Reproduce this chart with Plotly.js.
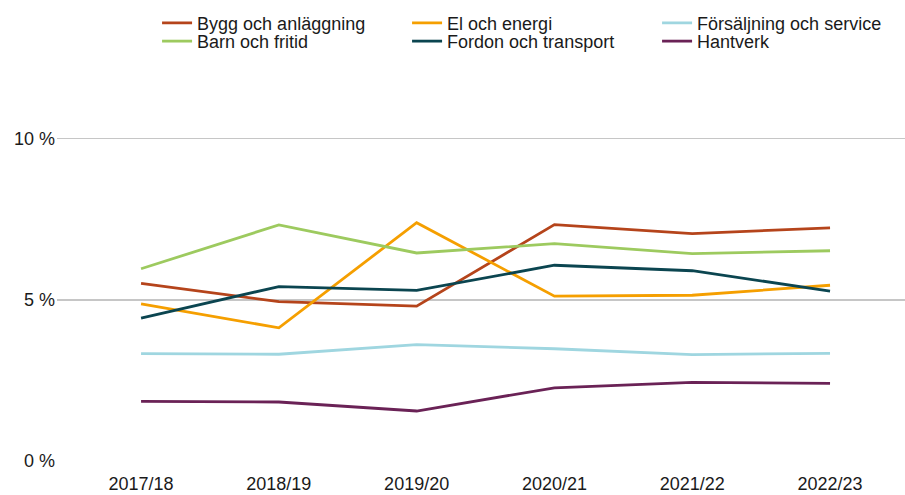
<!DOCTYPE html>
<html>
<head>
<meta charset="utf-8">
<script src="https://cdn.plot.ly/plotly-3.0.1.min.js"></script>
<style>html,body{margin:0;padding:0;background:#fff;}#chart{width:905px;height:495px;}</style>
</head>
<body>
<div id="chart"></div>
<script>
const years = ["2017/18", "2018/19", "2019/20", "2020/21", "2021/22", "2022/23"];
const bygg = [5.51, 4.94, 4.80, 7.33, 7.05, 7.23];
const el = [4.87, 4.13, 7.39, 5.11, 5.14, 5.45];
const forsaljning = [3.33, 3.31, 3.61, 3.48, 3.30, 3.34];
const barn = [5.96, 7.32, 6.45, 6.74, 6.43, 6.52];
const fordon = [4.43, 5.41, 5.29, 6.07, 5.90, 5.27];
const hantverk = [1.85, 1.83, 1.55, 2.27, 2.44, 2.41];
const yTickVals = [0, 5, 10];
const yTickText = ["0 %", "5 %", "10 %"];

const series = [
  {name: "Bygg och anläggning", y: bygg, color: "#b5441b", legend: "legend"},
  {name: "El och energi", y: el, color: "#f59f00", legend: "legend"},
  {name: "Försäljning och service", y: forsaljning, color: "#9fd6e0", legend: "legend"},
  {name: "Barn och fritid", y: barn, color: "#9dca5f", legend: "legend2"},
  {name: "Fordon och transport", y: fordon, color: "#0b4550", legend: "legend2"},
  {name: "Hantverk", y: hantverk, color: "#6a2256", legend: "legend2"}
];

const data = series.map(s => ({
  type: "scatter",
  mode: "lines",
  x: years,
  y: s.y,
  name: s.name,
  legend: s.legend,
  line: {color: s.color, width: 2.8},
  hoverinfo: "skip"
}));

const font = {family: "Liberation Sans, Arial, sans-serif", size: 18, color: "#1a1a1a"};
const legendBase = {
  orientation: "h",
  xanchor: "left",
  yanchor: "top",
  x: 0.118,
  entrywidth: 205,
  entrywidthmode: "pixels",
  itemwidth: 30,
  bgcolor: "rgba(0,0,0,0)",
  borderwidth: 0,
  font: font,
  tracegroupgap: 0
};

const layout = {
  width: 905,
  height: 495,
  margin: {l: 57, r: 0, t: 74, b: 34, autoexpand: false},
  paper_bgcolor: "#ffffff",
  plot_bgcolor: "#ffffff",
  font: font,
  showlegend: true,
  legend: Object.assign({}, legendBase, {y: 1.179}),
  legend2: Object.assign({}, legendBase, {y: 1.132}),
  xaxis: {
    type: "category",
    range: [-0.61, 5.544],
    showgrid: false,
    showline: false,
    zeroline: false,
    ticks: "",
    ticklabelstandoff: 10,
    tickfont: font,
    fixedrange: true
  },
  yaxis: {
    range: [0, 12],
    tickvals: yTickVals,
    ticktext: yTickText,
    showgrid: true,
    gridcolor: "#c6c6c6",
    gridwidth: 1.5,
    zeroline: false,
    showline: false,
    ticks: "",
    ticklabelstandoff: 1,
    tickfont: font,
    fixedrange: true
  }
};

Plotly.newPlot("chart", data, layout, {staticPlot: true, displayModeBar: false});
</script>
</body>
</html>
